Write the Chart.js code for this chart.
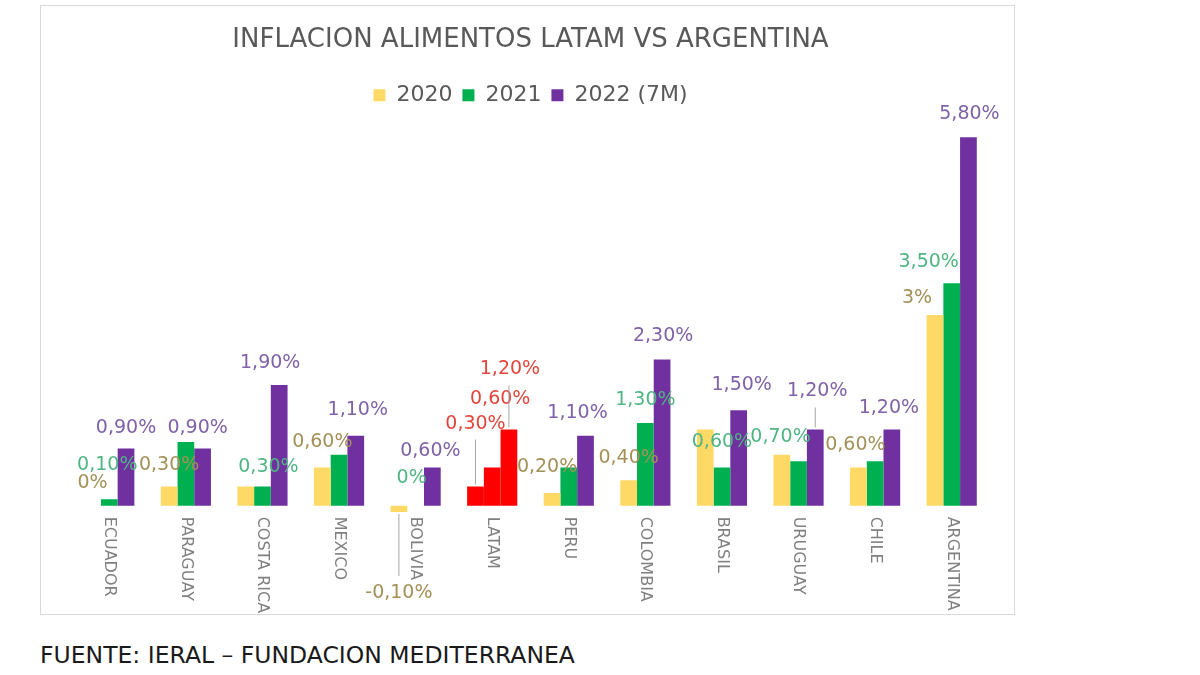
<!DOCTYPE html>
<html>
<head>
<meta charset="utf-8">
<script src="https://cdn.jsdelivr.net/npm/chart.js@4.4.1/dist/chart.umd.min.js"></script>
<style>
  html, body { margin: 0; padding: 0; background: #ffffff; }
  body { width: 1200px; height: 675px; position: relative; overflow: hidden; }
  #box { position: absolute; left: 40px; top: 5px; width: 973px; height: 608px; border: 1px solid #d9d9d9; }
  #source { position: absolute; left: 40px; top: 641px; font-family: 'DejaVu Sans', sans-serif; font-size: 23.5px; color: #1a1a1a; white-space: nowrap; }
</style>
</head>
<body>
<div id="box"><canvas id="c"></canvas></div>
<div id="source">FUENTE: IERAL – FUNDACION MEDITERRANEA</div>
<script>
const categories = ['ECUADOR','PARAGUAY','COSTA RICA','MEXICO','BOLIVIA','LATAM','PERU','COLOMBIA','BRASIL','URUGUAY','CHILE','ARGENTINA'];
const seriesNames = ['2020','2021','2022 (7M)'];
const values2020 = [0, 0.3, 0.3, 0.6, -0.1, 0.3, 0.2, 0.4, 1.2, 0.8, 0.6, 3];
const values2021 = [0.1, 1.0, 0.3, 0.8, 0, 0.6, 0.6, 1.3, 0.6, 0.7, 0.7, 3.5];
const values2022 = [0.9, 0.9, 1.9, 1.1, 0.6, 1.2, 1.1, 2.3, 1.5, 1.2, 1.2, 5.8];
const highlightCategory = 'LATAM';

const barColors = ['#FFD966', '#00B050', '#7030A0'];
const labelColors = ['#A39158', '#4FB583', '#7F62A8'];
const highlightColor = '#FF0000';
const highlightLabelColor = '#E2463C';
const FONT = "'DejaVu Sans', sans-serif";

// label display tweaks (dataset:index) -> [dx, dy]
const labelShift = {
  '0:0':[0,-3], '1:0':[-2,-14], '2:0':[0,0],
  '0:1':[0,-2], '2:1':[-5,0],
  '1:2':[6,0], '2:2':[-9,-2],
  '0:3':[0,-5], '2:3':[2,-6],
  '0:4':[0,61], '1:4':[-4,-8], '2:4':[-2,4],
  '0:5':[0,-43], '1:5':[8,-48], '2:5':[1,-40],
  '0:6':[-5,-6], '2:6':[-8,-3],
  '0:7':[0,-2], '1:7':[0,-3], '2:7':[1,-3],
  '1:8':[0,-5], '2:8':[3,-5],
  '1:9':[-18,-4], '2:9':[2,-18],
  '0:10':[-3,-2], '2:10':[-3,-1],
  '0:11':[-18,3], '1:11':[-23,-1], '2:11':[1,-3]
};
const hiddenLabels = ['1:1','0:2','1:3','1:6','0:8','0:9','1:10'];
const leaderLines = ['0:4','0:5','2:5','2:9'];

const hlIndex = categories.indexOf(highlightCategory);

function fmt(v) {
  if (Number.isInteger(v)) return v + '%';
  return v.toFixed(2).replace('.', ',') + '%';
}

const dataLabelPlugin = {
  id: 'dataLabels',
  afterDatasetsDraw(chart) {
    const ctx = chart.ctx;
    ctx.save();
    ctx.font = '19px ' + FONT;
    ctx.textAlign = 'center';
    ctx.textBaseline = 'middle';
    chart.data.datasets.forEach((ds, di) => {
      const meta = chart.getDatasetMeta(di);
      meta.data.forEach((el, i) => {
        const key = di + ':' + i;
        if (hiddenLabels.includes(key)) return;
        const v = ds.data[i];
        const sh = labelShift[key] || [0, 0];
        const neg = v < 0;
        const x = el.x + sh[0];
        const y = (neg ? el.y + 20 : el.y - 20) + sh[1];
        if (leaderLines.includes(key)) {
          ctx.strokeStyle = '#a6a6a6';
          ctx.lineWidth = 1;
          ctx.beginPath();
          if (neg) { ctx.moveTo(el.x, el.y + 2); ctx.lineTo(el.x, y - 17); }
          else { ctx.moveTo(el.x, el.y - 2); ctx.lineTo(el.x, y + 16); }
          ctx.stroke();
        }
        ctx.fillStyle = (i === hlIndex) ? highlightLabelColor : labelColors[di];
        ctx.fillText(fmt(v), x, y);
      });
    });
    ctx.restore();
  }
};

const categoryLabelPlugin = {
  id: 'catLabels',
  afterDraw(chart) {
    const ctx = chart.ctx;
    const xs = chart.scales.x;
    const y0 = chart.scales.y.getPixelForValue(0);
    ctx.save();
    ctx.font = '16px ' + FONT;
    ctx.fillStyle = '#808080';
    ctx.textAlign = 'left';
    ctx.textBaseline = 'middle';
    categories.forEach((c, i) => {
      const x = xs.getPixelForValue(i);
      ctx.save();
      ctx.translate(x, y0 + 11);
      ctx.rotate(Math.PI / 2);
      ctx.fillText(c, 0, 0);
      ctx.restore();
    });
    ctx.restore();
  }
};

function colorFor(di) {
  return (c) => (c.type === 'data' && c.dataIndex === hlIndex) ? highlightColor : barColors[di];
}

const seriesValues = [values2020, values2021, values2022];

new Chart(document.getElementById('c'), {
  type: 'bar',
  data: {
    labels: categories,
    datasets: seriesNames.map((n, di) => ({
      label: n,
      data: seriesValues[di],
      backgroundColor: colorFor(di),
      borderWidth: 0,
      categoryPercentage: 0.655,
      barPercentage: 1.0
    }))
  },
  options: {
    responsive: true,
    maintainAspectRatio: false,
    animation: false,
    layout: { padding: { left: 30, right: 24, top: 0, bottom: 102 } },
    plugins: {
      title: {
        display: true,
        text: 'INFLACION ALIMENTOS LATAM VS ARGENTINA',
        color: '#595959',
        font: { family: FONT, size: 26, weight: 'normal' },
        padding: { top: 19, bottom: 18 }
      },
      legend: {
        display: true,
        position: 'top',
        labels: {
          color: '#595959',
          font: { family: FONT, size: 22 },
          boxWidth: 12,
          boxHeight: 12,
          padding: 10,
          generateLabels(chart) {
            return chart.data.datasets.map((ds, i) => ({
              text: ds.label,
              fillStyle: barColors[i],
              strokeStyle: barColors[i],
              lineWidth: 0,
              fontColor: '#595959',
              datasetIndex: i,
              hidden: false
            }));
          }
        }
      },
      tooltip: { enabled: false }
    },
    scales: {
      x: { display: false },
      y: {
        display: true,
        min: -0.1,
        max: 6.13,
        ticks: { display: false },
        border: { display: false },
        grid: {
          drawTicks: false,
          lineWidth: 1.5,
          color: (c) => (c.tick && c.tick.value === 0) ? '#d9d9d9' : 'rgba(0,0,0,0)'
        }
      }
    }
  },
  plugins: [dataLabelPlugin, categoryLabelPlugin]
});
</script>
</body>
</html>
